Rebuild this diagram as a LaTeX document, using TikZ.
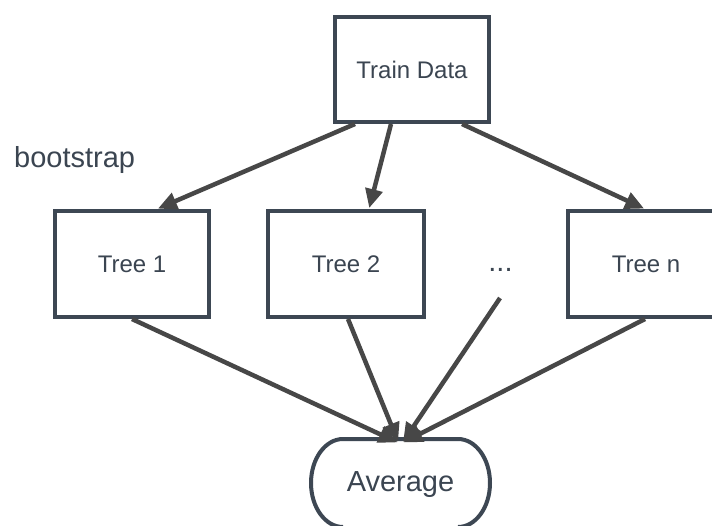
\documentclass[tikz,border=0pt]{standalone}
\usepackage{fontspec}
\setmainfont{Liberation Sans}
\usetikzlibrary{arrows.meta,calc}

\definecolor{boxline}{HTML}{3D4753}
\definecolor{txt}{HTML}{3B4551}
\definecolor{arrowc}{HTML}{474747}

\tikzset{
  box/.style={draw=boxline, line width=4pt, minimum height=106pt, text=txt,
              font=\fontsize{24}{28}\selectfont, inner sep=0pt},
  flow/.style={draw=arrowc, line width=4.5pt,
               -{Triangle[length=19pt,width=17pt]}, shorten >=1pt},
  plain/.style={text=txt, inner sep=0pt}
}

\begin{document}
\begin{tikzpicture}[x=1pt, y=-1pt]
  \useasboundingbox (0,0) rectangle (712,525);
  \clip (0,0) rectangle (712,525);
  \fill[white] (0,0) rectangle (712,525);

  % source and the trees
  \node[box, minimum width=154pt, minimum height=105pt] (td) at (412,69.5) {Train Data};
  \node[box, minimum width=154pt] (t1) at (132,264) {Tree 1};
  \node[box, minimum width=156pt] (t2) at (346,264) {Tree 2};
  \node[box, minimum width=156pt] (tn) at (646,264) {Tree n};
  \node[plain, font=\fontsize{29}{34}\selectfont, anchor=base] (dots) at (500.5,271.5) {...};
  \coordinate (dstart) at (500,298);

  \node[plain, font=\fontsize{29}{34}\selectfont, anchor=base west] (bs) at (14,167) {bootstrap};

  % averaging node: stadium with half-elliptic ends, running off the lower edge
  \node[plain, font=\fontsize{29}{34}\selectfont, minimum width=179pt, minimum height=88pt]
    (avg) at (400.5,485) {Average};
  \draw[boxline, line width=4pt]
    (343,527)
    arc[start angle=90, end angle=270, x radius=32, y radius=44]
    -- (458,439)
    arc[start angle=-90, end angle=90, x radius=32, y radius=44];

  % bootstrap samples
  \draw[flow] ([xshift=-57pt]td.south) -- ([xshift=25pt]t1.north);
  \draw[flow] ([xshift=-21pt]td.south) -- ([xshift=23pt]t2.north);
  \draw[flow] ([xshift=50pt]td.south) -- ([xshift=-1pt]tn.north);

  % aggregation
  \draw[flow] (t1.south) -- ([xshift=-2pt,yshift=-2pt]avg.north);
  \draw[flow] ([xshift=2pt]t2.south) -- ([xshift=-2pt,yshift=-2pt]avg.north);
  \draw[flow] (dstart) -- ([xshift=2pt,yshift=-2pt]avg.north);
  \draw[flow] ([xshift=-1pt]tn.south) -- ([xshift=2pt,yshift=-2pt]avg.north);
\end{tikzpicture}
\end{document}
